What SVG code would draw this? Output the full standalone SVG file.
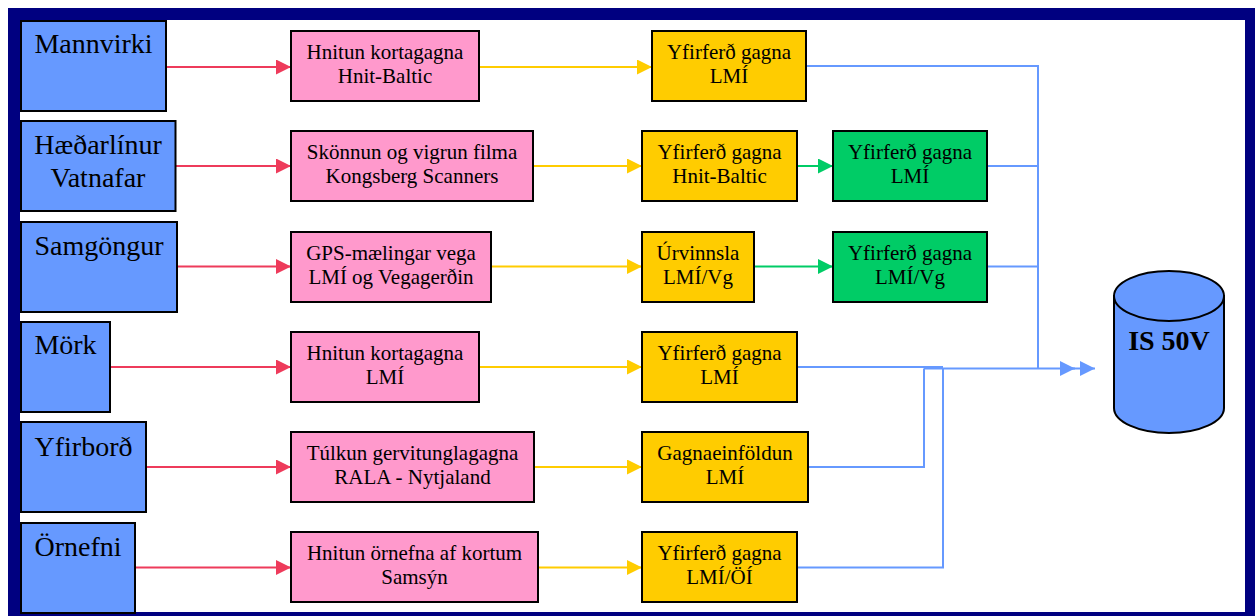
<svg xmlns="http://www.w3.org/2000/svg" width="1255" height="616" viewBox="0 0 1255 616">
<defs>
<style>
.src{fill:#6699FF;stroke:#000;stroke-width:2}
.pk{fill:#FF99CC;stroke:#000;stroke-width:2}
.or{fill:#FFCC00;stroke:#000;stroke-width:2}
.gr{fill:#00CC66;stroke:#000;stroke-width:2}
.big{font-family:"Liberation Serif","Times New Roman",serif;font-size:28px;fill:#000;text-anchor:middle}
.sm{font-family:"Liberation Serif","Times New Roman",serif;font-size:21px;fill:#000;text-anchor:middle}
.db{font-family:"Liberation Serif","Times New Roman",serif;font-size:28px;font-weight:bold;fill:#000;text-anchor:middle}
.red{stroke:#EE3B5B;stroke-width:2;fill:none;marker-end:url(#mr)}
.yel{stroke:#FFCC00;stroke-width:2;fill:none;marker-end:url(#my)}
.grn{stroke:#00CC66;stroke-width:2;fill:none;marker-end:url(#mg)}
.blu{stroke:#6699FF;stroke-width:2;fill:none}
</style>
<marker id="mr" viewBox="0 0 15 15" refX="15" refY="7.5" markerWidth="15" markerHeight="15" markerUnits="userSpaceOnUse" orient="auto"><path d="M0,0 L15,7.5 L0,15 Z" fill="#EE3B5B"/></marker>
<marker id="my" viewBox="0 0 15 15" refX="15" refY="7.5" markerWidth="15" markerHeight="15" markerUnits="userSpaceOnUse" orient="auto"><path d="M0,0 L15,7.5 L0,15 Z" fill="#FFCC00"/></marker>
<marker id="mg" viewBox="0 0 15 15" refX="15" refY="7.5" markerWidth="15" markerHeight="15" markerUnits="userSpaceOnUse" orient="auto"><path d="M0,0 L15,7.5 L0,15 Z" fill="#00CC66"/></marker>
<marker id="mb" viewBox="0 0 15 15" refX="15" refY="7.5" markerWidth="15" markerHeight="15" markerUnits="userSpaceOnUse" orient="auto"><path d="M0,0 L15,7.5 L0,15 Z" fill="#6699FF"/></marker>
</defs>
<rect x="0" y="0" width="1255" height="616" fill="#fff"/>
<rect x="8" y="8" width="1247" height="608" fill="#000080"/>
<rect x="20" y="20" width="1225" height="592" fill="#fff"/>

<g id="connectors">
<path class="red" d="M166,67 H291"/>
<path class="red" d="M175,166 H291"/>
<path class="red" d="M177,266.5 H291"/>
<path class="red" d="M110,367 H291"/>
<path class="red" d="M146,467 H291"/>
<path class="red" d="M135,567.5 H291"/>
<path class="yel" d="M479,67 H652"/>
<path class="yel" d="M533,166 H642"/>
<path class="yel" d="M491,266.5 H642"/>
<path class="yel" d="M479,367 H642"/>
<path class="yel" d="M534,467 H642"/>
<path class="yel" d="M538,567.5 H642"/>
<path class="grn" d="M797,166 H833"/>
<path class="grn" d="M754,266.5 H833"/>
<path class="blu" d="M806,66 H1038 V369"/>
<path class="blu" d="M987,166 H1038"/>
<path class="blu" d="M987,266.5 H1038"/>
<path class="blu" d="M797,367 H943"/>
<path class="blu" d="M808,467 H924 V368.5"/>
<path class="blu" d="M797,567.5 H943 V368.5"/>
<path class="blu" d="M924,368.5 H1075" stroke-width="2.5" marker-end="url(#mb)"/>
<path class="blu" d="M1070,368.5 H1095" marker-end="url(#mb)"/>
</g>

<g id="n-mannvirki"><rect class="src" x="21" y="21" width="145" height="90"/><text class="big" x="93.5" y="53">Mannvirki</text></g>
<g id="n-haedarlinur"><rect class="src" x="21" y="121" width="154.5" height="90"/><text class="big" x="98" y="154">Hæðarlínur</text><text class="big" x="98" y="187">Vatnafar</text></g>
<g id="n-samgongur"><rect class="src" x="21" y="222" width="156" height="90"/><text class="big" x="99" y="255">Samgöngur</text></g>
<g id="n-mork"><rect class="src" x="21" y="322" width="89" height="90"/><text class="big" x="65.5" y="354">Mörk</text></g>
<g id="n-yfirbord"><rect class="src" x="21" y="422" width="125" height="90"/><text class="big" x="83.5" y="456">Yfirborð</text></g>
<g id="n-ornefni"><rect class="src" x="21" y="523" width="114" height="90"/><text class="big" x="78" y="556">Örnefni</text></g>

<g id="p1"><rect class="pk" x="291" y="31" width="188" height="70"/><text class="sm" x="385" y="59">Hnitun kortagagna</text><text class="sm" x="385" y="83">Hnit-Baltic</text></g>
<g id="p2"><rect class="pk" x="291" y="131" width="242" height="70"/><text class="sm" x="412" y="159">Skönnun og vigrun filma</text><text class="sm" x="412" y="183">Kongsberg Scanners</text></g>
<g id="p3"><rect class="pk" x="291" y="232" width="200" height="70"/><text class="sm" x="391" y="260">GPS-mælingar vega</text><text class="sm" x="391" y="284">LMÍ og Vegagerðin</text></g>
<g id="p4"><rect class="pk" x="291" y="332" width="188" height="70"/><text class="sm" x="385" y="360">Hnitun kortagagna</text><text class="sm" x="385" y="384">LMÍ</text></g>
<g id="p5"><rect class="pk" x="291" y="432" width="243" height="70"/><text class="sm" x="412.5" y="460">Túlkun gervitunglagagna</text><text class="sm" x="412.5" y="484">RALA - Nytjaland</text></g>
<g id="p6"><rect class="pk" x="291" y="532" width="247" height="70"/><text class="sm" x="414.5" y="560">Hnitun örnefna af kortum</text><text class="sm" x="414.5" y="584">Samsýn</text></g>

<g id="o1"><rect class="or" x="652" y="31" width="154" height="70"/><text class="sm" x="729" y="59">Yfirferð gagna</text><text class="sm" x="729" y="83">LMÍ</text></g>
<g id="o2"><rect class="or" x="642" y="131" width="155" height="70"/><text class="sm" x="719.5" y="159">Yfirferð gagna</text><text class="sm" x="719.5" y="183">Hnit-Baltic</text></g>
<g id="o3"><rect class="or" x="642" y="232" width="112" height="70"/><text class="sm" x="698" y="260">Úrvinnsla</text><text class="sm" x="698" y="284">LMÍ/Vg</text></g>
<g id="o4"><rect class="or" x="642" y="332" width="155" height="70"/><text class="sm" x="719.5" y="360">Yfirferð gagna</text><text class="sm" x="719.5" y="384">LMÍ</text></g>
<g id="o5"><rect class="or" x="642" y="432" width="166" height="70"/><text class="sm" x="725" y="460">Gagnaeinföldun</text><text class="sm" x="725" y="484">LMÍ</text></g>
<g id="o6"><rect class="or" x="642" y="532" width="155" height="70"/><text class="sm" x="719.5" y="560">Yfirferð gagna</text><text class="sm" x="719.5" y="584">LMÍ/ÖÍ</text></g>

<g id="g1"><rect class="gr" x="833" y="131" width="154" height="70"/><text class="sm" x="910" y="159">Yfirferð gagna</text><text class="sm" x="910" y="183">LMÍ</text></g>
<g id="g2"><rect class="gr" x="833" y="232" width="154" height="70"/><text class="sm" x="910" y="260">Yfirferð gagna</text><text class="sm" x="910" y="284">LMÍ/Vg</text></g>

<g id="is50v">
<path d="M1114,296 V408 A55,25 0 0 0 1224,408 V296 Z" fill="#6699FF" stroke="#000" stroke-width="2"/>
<ellipse cx="1169" cy="296" rx="55" ry="25" fill="#6699FF" stroke="#000" stroke-width="2"/>
<text class="db" x="1169" y="350">IS 50V</text>
</g>
</svg>
